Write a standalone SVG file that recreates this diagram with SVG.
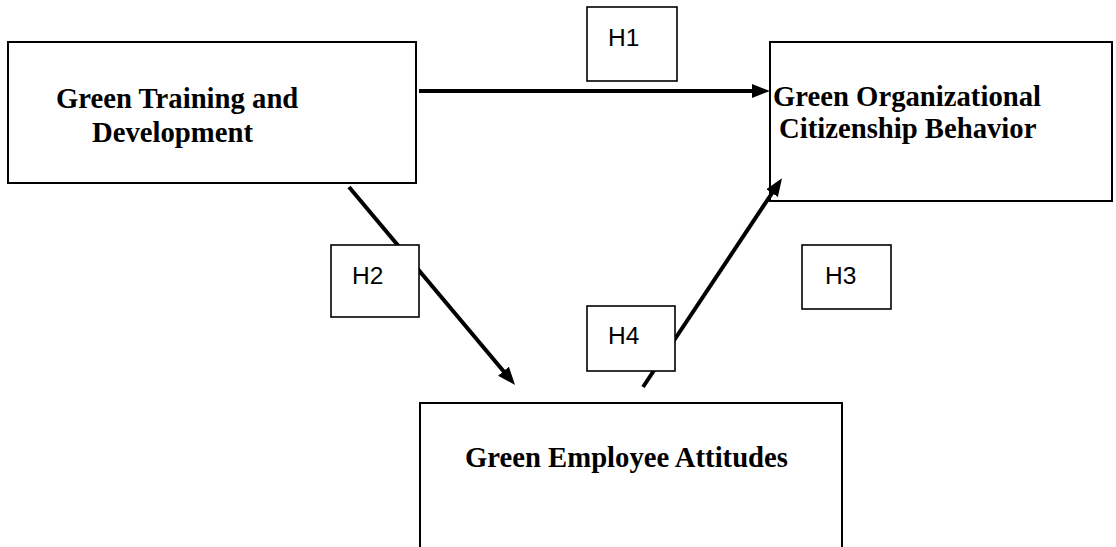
<svg xmlns="http://www.w3.org/2000/svg" width="1116" height="547" viewBox="0 0 1116 547">
<style>
.box{fill:#fff;stroke:#000;stroke-width:2}
.lbl{fill:#fff;stroke:#000;stroke-width:1.6}
.t{font-family:"Liberation Serif","Times New Roman",serif;font-weight:bold;font-size:28.7px;fill:#000}
.h{font-family:"Liberation Sans",Arial,sans-serif;font-size:24.5px;fill:#000}
.c{stroke:#000;stroke-width:4;fill:none;marker-end:url(#ah)}
</style>
<defs>
<marker id="ah" viewBox="0 0 18 14" refX="5" refY="7" markerWidth="18" markerHeight="14" markerUnits="userSpaceOnUse" orient="auto">
<path d="M0,0 L18,7 L0,14 z" fill="#000"/>
</marker>
</defs>
<rect width="1116" height="547" fill="#fff"/>
<g id="gtd">
<rect class="box" x="8" y="42" width="408" height="141"/>
<text class="t"><tspan x="56" y="108">Green Training and</tspan><tspan x="92" y="142">Development</tspan></text>
</g>
<g id="gocb">
<rect class="box" x="770" y="42" width="342" height="159"/>
<text class="t"><tspan x="773" y="106">Green Organizational</tspan><tspan x="779" y="138">Citizenship Behavior</tspan></text>
</g>
<g id="gea">
<rect class="box" x="420" y="403" width="422" height="170"/>
<text class="t" x="465" y="467">Green Employee Attitudes</text>
</g>
<g id="connectors">
<line class="c" x1="419" y1="91" x2="757" y2="91"/>
<line class="c" x1="349" y1="187" x2="506.7" y2="375"/>
<line class="c" x1="643" y1="387" x2="774.8" y2="189"/>
</g>
<g id="h1">
<rect class="lbl" x="587" y="7" width="90" height="74"/>
<text class="h" x="608" y="46">H1</text>
</g>
<g id="h2">
<rect class="lbl" x="331" y="245" width="88" height="72"/>
<text class="h" x="352" y="284">H2</text>
</g>
<g id="h3">
<rect class="lbl" x="802" y="245" width="89" height="64"/>
<text class="h" x="825" y="284">H3</text>
</g>
<g id="h4">
<rect class="lbl" x="587" y="306" width="88" height="65"/>
<text class="h" x="608" y="344">H4</text>
</g>
</svg>
